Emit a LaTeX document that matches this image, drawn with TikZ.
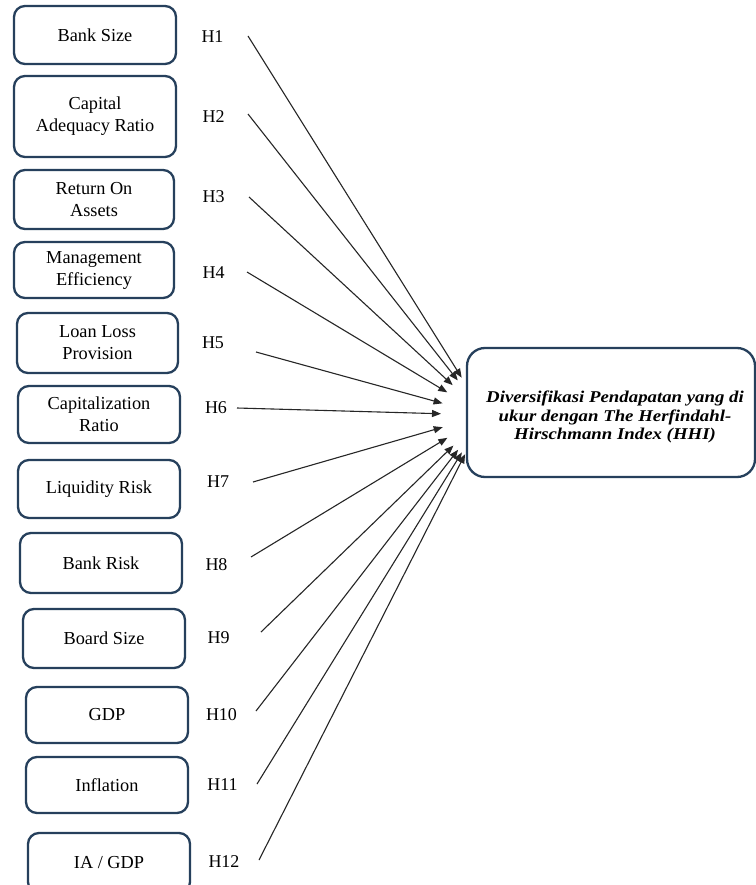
\documentclass[tikz,border=0pt]{standalone}
\usepackage{fontspec}
\setmainfont{Liberation Serif}
\newfontfamily\tgtfont[FakeStretch=1.14]{Liberation Serif}
\usetikzlibrary{calc,arrows.meta}
\definecolor{boxblue}{RGB}{38,64,92}
\tikzset{
  varbox/.style={draw=boxblue, line width=2.3pt, rounded corners=11pt, align=center,
    inner sep=0pt, font=\fontsize{18.3}{22}\selectfont, text=black},
  hlab/.style={font=\fontsize{18}{20}\selectfont, inner sep=0pt},
  tgttext/.style={align=center, inner sep=0pt,
    font=\tgtfont\fontsize{16.5}{18.7}\selectfont\bfseries\itshape},
  arr/.style={line width=1.1pt, draw=black!85, -{Triangle[length=9pt,width=7pt]}},
}
\begin{document}
\begin{tikzpicture}[x=1pt,y=-1pt]
\useasboundingbox (0,0) rectangle (755,885);
\fill[white] (0,0) rectangle (755,885);
% left boxes
\node[varbox, minimum width=162pt, minimum height=58pt] (b1) at (95,35) {Bank Size};
\node[varbox, minimum width=162pt, minimum height=81pt] (b2) at (95,116.5) {Capital\\Adequacy Ratio};
\node[varbox, minimum width=160pt, minimum height=59pt] (b3) at (94,199.5) {Return On\\Assets};
\node[varbox, minimum width=160pt, minimum height=56pt] (b4) at (94,270) {Management\\Efficiency};
\node[varbox, minimum width=161pt, minimum height=60pt] (b5) at (97.5,343) {Loan Loss\\Provision};
\node[varbox, minimum width=162pt, minimum height=57pt] (b6) at (99,414.5) {Capitalization\\Ratio};
\node[varbox, minimum width=162pt, minimum height=58pt] (b7) at (99,489) {Liquidity Risk};
\node[varbox, minimum width=162pt, minimum height=60pt] (b8) at (101,563) {Bank Risk};
\node[varbox, minimum width=162pt, minimum height=59pt] (b9) at (104,638.5) {Board Size};
\node[varbox, minimum width=162pt, minimum height=56pt] (b10) at (107,715) {GDP};
\node[varbox, minimum width=162pt, minimum height=56pt] (b11) at (107,785) {Inflation};
\node[varbox, minimum width=162pt, minimum height=60pt] (b12) at (109,863) {IA / GDP};
% target box
\node[varbox, rounded corners=18pt, minimum width=288pt, minimum height=129pt] (t) at (611,412.5) {};
\node[tgttext] (tt) at (615,417)
  {Diversifikasi Pendapatan yang di\\ukur dengan The Herfindahl-\\Hirschmann Index (HHI)};
% hypothesis labels
\node[hlab] (h1) at (212.5,37) {H1};
\node[hlab] (h2) at (213.5,117) {H2};
\node[hlab] (h3) at (213.5,197) {H3};
\node[hlab] (h4) at (213.5,273) {H4};
\node[hlab] (h5) at (213,343) {H5};
\node[hlab] (h6) at (216,408) {H6};
\node[hlab] (h7) at (218,482) {H7};
\node[hlab] (h8) at (216.5,565) {H8};
\node[hlab] (h9) at (218.5,638) {H9};
\node[hlab] (h10) at (221.5,715) {H10};
\node[hlab] (h11) at (222.5,785) {H11};
\node[hlab] (h12) at (224,862) {H12};
% arrow start points
\coordinate (s1) at (248,36);
\coordinate (s2) at (248,114);
\coordinate (s3) at (249,197);
\coordinate (s4) at (247,272);
\coordinate (s5) at (256,352);
\coordinate (s6) at (237,408);
\coordinate (s7) at (253,482);
\coordinate (s8) at (251,557);
\coordinate (s9) at (261,632);
\coordinate (s10) at (256,711);
\coordinate (s11) at (257,784);
\coordinate (s12) at (259,860);
\coordinate (hub) at (485,415);
\foreach \i in {1,...,12}{
  \draw[arr] (s\i) -- ($(hub)!44pt!(s\i)$);
}
\end{tikzpicture}
\end{document}
